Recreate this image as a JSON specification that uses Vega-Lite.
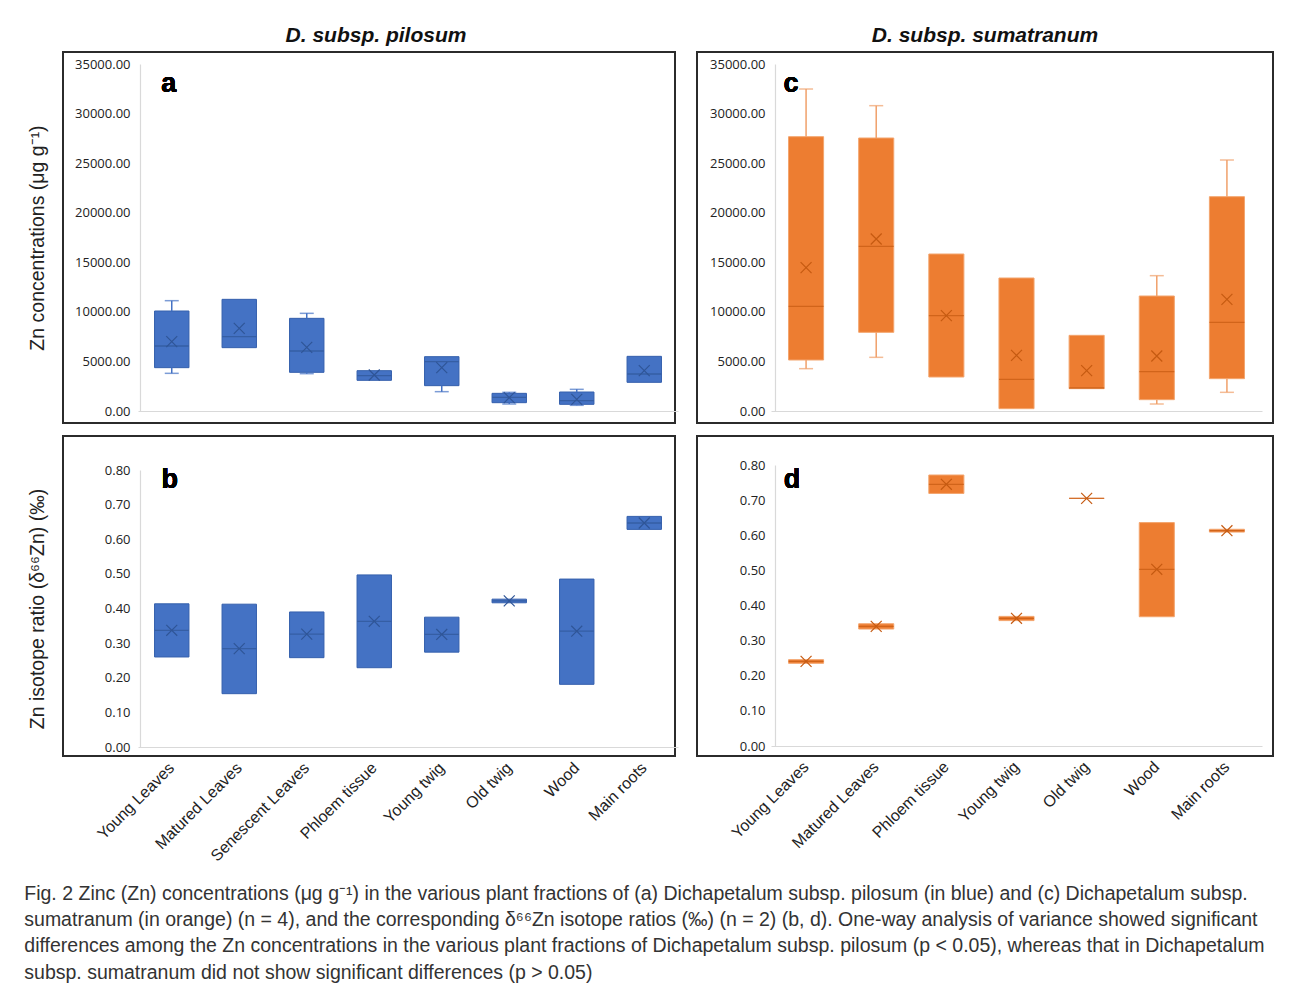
{
  "$schema": "https://vega.github.io/schema/vega-lite/v6.json",
  "background": "white",
  "padding": {"left": 24, "top": 24, "right": 5, "bottom": 5},
  "config": {
    "view": {"stroke": "#2b2b2b", "strokeWidth": 2},
    "axis": {"grid": false, "ticks": false, "domainColor": "#d9d9d9", "domainWidth": 1.2, "labelColor": "#222", "titleColor": "#222", "labelOverlap": false},
    "title": {"font": "Liberation Sans", "fontSize": 21, "fontWeight": "bold", "fontStyle": "italic", "color": "#111", "offset": 6}
  },
  "title": {
    "text": [
      "Fig. 2 Zinc (Zn) concentrations (μg g⁻¹) in the various plant fractions of (a) Dichapetalum subsp. pilosum (in blue) and (c) Dichapetalum subsp.",
      "sumatranum (in orange) (n = 4), and the corresponding δ⁶⁶Zn isotope ratios (‰) (n = 2) (b, d). One-way analysis of variance showed significant",
      "differences among the Zn concentrations in the various plant fractions of Dichapetalum subsp. pilosum (p < 0.05), whereas that in Dichapetalum",
      "subsp. sumatranum did not show significant differences (p > 0.05)"
    ],
    "orient": "bottom", "anchor": "start", "font": "Liberation Sans", "fontSize": 19.5, "fontWeight": "normal", "fontStyle": "normal",
    "lineHeight": 26.3, "offset": 20, "color": "#333", "dx": -2
  },
  "data": {"values": [
    {"p": "a", "cat": "Young Leaves", "lo": 3799, "q1": 4371, "med": 6556, "q3": 10086, "hi": 11128, "mean": 6993},
    {"p": "a", "cat": "Matured Leaves", "lo": null, "q1": 6388, "med": 7497, "q3": 11263, "hi": null, "mean": 8338},
    {"p": "a", "cat": "Senescent Leaves", "lo": 3765, "q1": 3900, "med": 6052, "q3": 9346, "hi": 9851, "mean": 6421},
    {"p": "a", "cat": "Phloem tissue", "lo": null, "q1": 3093, "med": 3564, "q3": 4068, "hi": null, "mean": 3631},
    {"p": "a", "cat": "Young twig", "lo": 1950, "q1": 2555, "med": 4976, "q3": 5480, "hi": null, "mean": 4371},
    {"p": "a", "cat": "Old twig", "lo": 706, "q1": 840, "med": 1378, "q3": 1782, "hi": 1883, "mean": 1345},
    {"p": "a", "cat": "Wood", "lo": 572, "q1": 672, "med": 1042, "q3": 1916, "hi": 2185, "mean": 1177},
    {"p": "a", "cat": "Main roots", "lo": null, "q1": 2891, "med": 3732, "q3": 5514, "hi": null, "mean": 4068},
    {"p": "c", "cat": "Young Leaves", "lo": 4270, "q1": 5144, "med": 10557, "q3": 27669, "hi": 32477, "mean": 14457},
    {"p": "c", "cat": "Matured Leaves", "lo": 5413, "q1": 7934, "med": 16608, "q3": 27535, "hi": 30796, "mean": 17348},
    {"p": "c", "cat": "Phloem tissue", "lo": null, "q1": 3429, "med": 9615, "q3": 15835, "hi": null, "mean": 9615},
    {"p": "c", "cat": "Young twig", "lo": null, "q1": 235, "med": 3194, "q3": 13414, "hi": null, "mean": 5615},
    {"p": "c", "cat": "Old twig", "lo": null, "q1": 2253, "med": 2320, "q3": 7632, "hi": null, "mean": 4068},
    {"p": "c", "cat": "Wood", "lo": 706, "q1": 1143, "med": 3967, "q3": 11599, "hi": 13650, "mean": 5547},
    {"p": "c", "cat": "Main roots", "lo": 1883, "q1": 3261, "med": 8943, "q3": 21618, "hi": 25316, "mean": 11263},
    {"p": "b", "cat": "Young Leaves", "lo": null, "q1": 0.26, "med": 0.337, "q3": 0.4135, "hi": null, "mean": 0.337},
    {"p": "b", "cat": "Matured Leaves", "lo": null, "q1": 0.154, "med": 0.284, "q3": 0.4125, "hi": null, "mean": 0.284},
    {"p": "b", "cat": "Senescent Leaves", "lo": null, "q1": 0.258, "med": 0.326, "q3": 0.39, "hi": null, "mean": 0.326},
    {"p": "b", "cat": "Phloem tissue", "lo": null, "q1": 0.229, "med": 0.363, "q3": 0.497, "hi": null, "mean": 0.363},
    {"p": "b", "cat": "Young twig", "lo": null, "q1": 0.274, "med": 0.325, "q3": 0.375, "hi": null, "mean": 0.325},
    {"p": "b", "cat": "Old twig", "lo": null, "q1": 0.4165, "med": 0.422, "q3": 0.427, "hi": null, "mean": 0.422},
    {"p": "b", "cat": "Wood", "lo": null, "q1": 0.181, "med": 0.3345, "q3": 0.485, "hi": null, "mean": 0.3345},
    {"p": "b", "cat": "Main roots", "lo": null, "q1": 0.6285, "med": 0.647, "q3": 0.666, "hi": null, "mean": 0.647},
    {"p": "d", "cat": "Young Leaves", "lo": null, "q1": 0.2354, "med": 0.241, "q3": 0.2458, "hi": null, "mean": 0.241},
    {"p": "d", "cat": "Matured Leaves", "lo": null, "q1": 0.333, "med": 0.3407, "q3": 0.348, "hi": null, "mean": 0.3407},
    {"p": "d", "cat": "Phloem tissue", "lo": null, "q1": 0.719, "med": 0.745, "q3": 0.7715, "hi": null, "mean": 0.745},
    {"p": "d", "cat": "Young twig", "lo": null, "q1": 0.357, "med": 0.3635, "q3": 0.369, "hi": null, "mean": 0.3635},
    {"p": "d", "cat": "Old twig", "lo": null, "q1": 0.705, "med": 0.705, "q3": 0.705, "hi": null, "mean": 0.705},
    {"p": "d", "cat": "Wood", "lo": null, "q1": 0.368, "med": 0.503, "q3": 0.636, "hi": null, "mean": 0.503},
    {"p": "d", "cat": "Main roots", "lo": null, "q1": 0.609, "med": 0.613, "q3": 0.617, "hi": null, "mean": 0.613}
  ]},
  "vconcat": [
    {
      "hconcat": [
        {
          "width": 612, "height": 371,
          "title": {"text": "D. subsp. pilosum", "dx": 7},
          "transform": [{"filter": "datum.p == 'a'"}],
          "encoding": {"x": {"field": "cat", "type": "nominal", "sort": null,
            "scale": {"domain": ["Young Leaves", "Matured Leaves", "Senescent Leaves", "Phloem tissue", "Young twig", "Old twig", "Wood", "Main roots"], "range": [75, 615], "paddingInner": 0, "paddingOuter": 0},
            "axis": {"title": null, "labels": false, "offset": -12}}},
          "layer": [
            {"mark": {"type": "bar", "color": "#4472c4", "stroke": "#3560ad", "strokeWidth": 1, "width": {"band": 0.51}},
              "encoding": {"y": {"field": "q1", "type": "quantitative", "scale": {"domain": [0, 35000], "range": [359, 12]},
                "axis": {"title": "Zn concentrations (μg g⁻¹)", "titleFont": "Liberation Sans", "titleFontSize": 19.5, "titleFontWeight": "normal", "titlePadding": 27,
                  "values": [0, 5000, 10000, 15000, 20000, 25000, 30000, 35000], "tickCount": 12, "format": ".2f", "labelFont": "Open Sans", "labelFontSize": 13, "labelPadding": 10, "labelOverlap": false, "offset": -77}},
                "y2": {"field": "q3"}}},
            {"transform": [{"filter": "datum.hi != null"}], "mark": {"type": "rule", "color": "#4472c4", "strokeWidth": 1.5},
              "encoding": {"y": {"field": "q3", "type": "quantitative"}, "y2": {"field": "hi"}}},
            {"transform": [{"filter": "datum.lo != null"}], "mark": {"type": "rule", "color": "#4472c4", "strokeWidth": 1.5},
              "encoding": {"y": {"field": "lo", "type": "quantitative"}, "y2": {"field": "q1"}}},
            {"transform": [{"filter": "datum.hi != null"}], "mark": {"type": "tick", "color": "#4472c4", "size": 14, "thickness": 1.5},
              "encoding": {"y": {"field": "hi", "type": "quantitative"}}},
            {"transform": [{"filter": "datum.lo != null"}], "mark": {"type": "tick", "color": "#4472c4", "size": 14, "thickness": 1.5},
              "encoding": {"y": {"field": "lo", "type": "quantitative"}}},
            {"mark": {"type": "tick", "color": "#2f5597", "size": 34, "thickness": 1.3},
              "encoding": {"y": {"field": "med", "type": "quantitative"}}},
            {"mark": {"type": "point", "shape": "M-1,-1L1,1M1,-1L-1,1", "size": 120, "filled": false, "stroke": "#2f5597", "strokeWidth": 1.2, "opacity": 1},
              "encoding": {"y": {"field": "mean", "type": "quantitative"}}},
            {"mark": {"type": "text", "text": "a", "font": "Liberation Sans", "fontSize": 27, "fontWeight": "bold", "color": "#000", "dx": -3},
              "encoding": {"x": {"datum": "Young Leaves"}, "y": {"datum": 33000, "type": "quantitative"}}}
          ]
        },
        {
          "width": 576, "height": 371,
          "title": {"text": "D. subsp. sumatranum"},
          "transform": [{"filter": "datum.p == 'c'"}],
          "encoding": {"x": {"field": "cat", "type": "nominal", "sort": null,
            "scale": {"domain": ["Young Leaves", "Matured Leaves", "Phloem tissue", "Young twig", "Old twig", "Wood", "Main roots"], "range": [74, 565], "paddingInner": 0, "paddingOuter": 0},
            "axis": {"title": null, "labels": false, "offset": -12}}},
          "layer": [
            {"mark": {"type": "bar", "color": "#ed7d31", "stroke": "#f3a56e", "strokeWidth": 1, "width": {"band": 0.5}},
              "encoding": {"y": {"field": "q1", "type": "quantitative", "scale": {"domain": [0, 35000], "range": [359, 12]},
                "axis": {"title": null,
                  "values": [0, 5000, 10000, 15000, 20000, 25000, 30000, 35000], "tickCount": 12, "format": ".2f", "labelFont": "Open Sans", "labelFontSize": 13, "labelPadding": 10, "labelOverlap": false, "offset": -78}},
                "y2": {"field": "q3"}}},
            {"transform": [{"filter": "datum.hi != null"}], "mark": {"type": "rule", "color": "#f0a06a", "strokeWidth": 1.5},
              "encoding": {"y": {"field": "q3", "type": "quantitative"}, "y2": {"field": "hi"}}},
            {"transform": [{"filter": "datum.lo != null"}], "mark": {"type": "rule", "color": "#f0a06a", "strokeWidth": 1.5},
              "encoding": {"y": {"field": "lo", "type": "quantitative"}, "y2": {"field": "q1"}}},
            {"transform": [{"filter": "datum.hi != null"}], "mark": {"type": "tick", "color": "#f0a06a", "size": 14, "thickness": 1.5},
              "encoding": {"y": {"field": "hi", "type": "quantitative"}}},
            {"transform": [{"filter": "datum.lo != null"}], "mark": {"type": "tick", "color": "#f0a06a", "size": 14, "thickness": 1.5},
              "encoding": {"y": {"field": "lo", "type": "quantitative"}}},
            {"mark": {"type": "tick", "color": "#c55a11", "size": 35, "thickness": 1.3},
              "encoding": {"y": {"field": "med", "type": "quantitative"}}},
            {"mark": {"type": "point", "shape": "M-1,-1L1,1M1,-1L-1,1", "size": 120, "filled": false, "stroke": "#c55a11", "strokeWidth": 1.2, "opacity": 1},
              "encoding": {"y": {"field": "mean", "type": "quantitative"}}},
            {"mark": {"type": "text", "text": "c", "font": "Liberation Sans", "fontSize": 27, "fontWeight": "bold", "color": "#000", "dx": -15},
              "encoding": {"x": {"datum": "Young Leaves"}, "y": {"datum": 33000, "type": "quantitative"}}}
          ]
        }
      ],
      "spacing": 20
    },
    {
      "hconcat": [
        {
          "width": 612, "height": 320,
          "transform": [{"filter": "datum.p == 'b'"}],
          "encoding": {"x": {"field": "cat", "type": "nominal", "sort": null,
            "scale": {"domain": ["Young Leaves", "Matured Leaves", "Senescent Leaves", "Phloem tissue", "Young twig", "Old twig", "Wood", "Main roots"], "range": [75, 615], "paddingInner": 0, "paddingOuter": 0},
            "axis": {"title": null, "offset": -9, "labelAngle": -45, "labelAlign": "right", "labelBaseline": "middle", "labelPadding": 18, "labelFont": "Liberation Sans", "labelFontSize": 16}}},
          "layer": [
            {"mark": {"type": "bar", "color": "#4472c4", "stroke": "#3560ad", "strokeWidth": 1, "width": {"band": 0.51}},
              "encoding": {"y": {"field": "q1", "type": "quantitative", "scale": {"domain": [0, 0.8], "range": [311, 34]},
                "axis": {"title": "Zn isotope ratio (δ⁶⁶Zn) (‰)", "titleFont": "Liberation Sans", "titleFontSize": 19.5, "titleFontWeight": "normal", "titlePadding": 57,
                  "values": [0, 0.1, 0.2, 0.3, 0.4, 0.5, 0.6, 0.7, 0.8], "tickCount": 12, "format": ".2f", "labelFont": "Open Sans", "labelFontSize": 13, "labelPadding": 10, "labelOverlap": false, "offset": -77}},
                "y2": {"field": "q3"}}},
            {"mark": {"type": "tick", "color": "#2f5597", "size": 34, "thickness": 1.3},
              "encoding": {"y": {"field": "med", "type": "quantitative"}}},
            {"mark": {"type": "point", "shape": "M-1,-1L1,1M1,-1L-1,1", "size": 120, "filled": false, "stroke": "#2f5597", "strokeWidth": 1.2, "opacity": 1},
              "encoding": {"y": {"field": "mean", "type": "quantitative"}}},
            {"mark": {"type": "text", "text": "b", "font": "Liberation Sans", "fontSize": 27, "fontWeight": "bold", "color": "#000", "dx": -2},
              "encoding": {"x": {"datum": "Young Leaves"}, "y": {"datum": 0.771, "type": "quantitative"}}}
          ]
        },
        {
          "width": 576, "height": 320,
          "transform": [{"filter": "datum.p == 'd'"}],
          "encoding": {"x": {"field": "cat", "type": "nominal", "sort": null,
            "scale": {"domain": ["Young Leaves", "Matured Leaves", "Phloem tissue", "Young twig", "Old twig", "Wood", "Main roots"], "range": [74, 565], "paddingInner": 0, "paddingOuter": 0},
            "axis": {"title": null, "offset": -10, "labelAngle": -45, "labelAlign": "right", "labelBaseline": "middle", "labelPadding": 18, "labelFont": "Liberation Sans", "labelFontSize": 16}}},
          "layer": [
            {"mark": {"type": "bar", "color": "#ed7d31", "stroke": "#f3a56e", "strokeWidth": 1, "width": {"band": 0.5}},
              "encoding": {"y": {"field": "q1", "type": "quantitative", "scale": {"domain": [0, 0.8], "range": [310, 29]},
                "axis": {"title": null,
                  "values": [0, 0.1, 0.2, 0.3, 0.4, 0.5, 0.6, 0.7, 0.8], "tickCount": 12, "format": ".2f", "labelFont": "Open Sans", "labelFontSize": 13, "labelPadding": 10, "labelOverlap": false, "offset": -78}},
                "y2": {"field": "q3"}}},
            {"mark": {"type": "tick", "color": "#c55a11", "size": 35, "thickness": 1.3},
              "encoding": {"y": {"field": "med", "type": "quantitative"}}},
            {"mark": {"type": "point", "shape": "M-1,-1L1,1M1,-1L-1,1", "size": 120, "filled": false, "stroke": "#c55a11", "strokeWidth": 1.2, "opacity": 1},
              "encoding": {"y": {"field": "mean", "type": "quantitative"}}},
            {"mark": {"type": "text", "text": "d", "font": "Liberation Sans", "fontSize": 27, "fontWeight": "bold", "color": "#000", "dx": -14},
              "encoding": {"x": {"datum": "Young Leaves"}, "y": {"datum": 0.757, "type": "quantitative"}}}
          ]
        }
      ],
      "spacing": 20
    }
  ],
  "spacing": 11
}
